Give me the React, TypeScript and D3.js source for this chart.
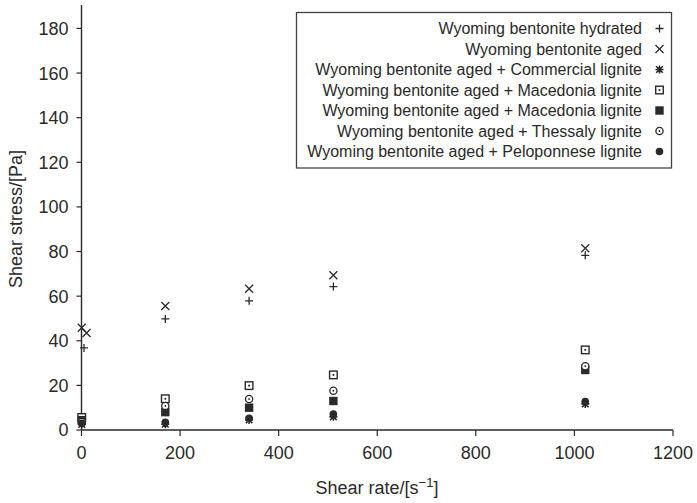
import React from "react";
import * as d3 from "d3";

const xTicks = [0, 200, 400, 600, 800, 1000, 1200];
const yTicks = [0, 20, 40, 60, 80, 100, 120, 140, 160, 180];

const seriesNames = [
  "Wyoming bentonite hydrated",
  "Wyoming bentonite aged",
  "Wyoming bentonite aged + Commercial lignite",
  "Wyoming bentonite aged + Macedonia lignite",
  "Wyoming bentonite aged + Macedonia lignite",
  "Wyoming bentonite aged + Thessaly lignite",
  "Wyoming bentonite aged + Peloponnese lignite",
];
const seriesMarkers = ["plus", "cross", "star", "dotSquare", "fillSquare", "dotCircle", "fillCircle"];

const hydratedX = [5.1, 170, 340, 511, 1022];
const hydratedY = [36.8, 49.8, 57.9, 64.3, 78.3];
const agedX = [0.5, 10.2, 170, 340, 511, 1022];
const agedY = [45.8, 43.5, 55.6, 63.3, 69.4, 81.5];
const ligniteX = [0.5, 170, 340, 511, 1022];
const commercialY = [2.5, 2.6, 4.5, 5.9, 11.7];
const macedonia1Y = [5.6, 14.0, 19.9, 24.7, 35.9];
const macedonia2Y = [4.4, 8.0, 10.0, 13.0, 26.9];
const thessalyY = [3.6, 10.8, 13.9, 17.6, 28.6];
const peloponneseY = [3.0, 3.4, 5.3, 7.2, 12.8];

const seriesX = [hydratedX, agedX, ligniteX, ligniteX, ligniteX, ligniteX, ligniteX];
const seriesY = [hydratedY, agedY, commercialY, macedonia1Y, macedonia2Y, thessalyY, peloponneseY];

const W = 697;
const H = 503;
const C = "#2a2a2a";
const FONT = "'Liberation Sans', Arial, sans-serif";

const xScale = d3.scaleLinear().domain([0, 1200]).range([81.5, 673]);
const yScale = d3.scaleLinear().domain([0, 190.5]).range([430, 5]);

function Marker({ kind, x, y }: { kind: string; x: number; y: number }) {
  const s = 4;
  switch (kind) {
    case "plus":
      return (
        <path d={`M${x - s},${y}H${x + s}M${x},${y - s}V${y + s}`} stroke={C} strokeWidth={1.3} fill="none" />
      );
    case "cross":
      return (
        <path
          d={`M${x - s},${y - s}L${x + s},${y + s}M${x - s},${y + s}L${x + s},${y - s}`}
          stroke={C}
          strokeWidth={1.3}
          fill="none"
        />
      );
    case "star":
      return (
        <path
          d={`M${x - s},${y}H${x + s}M${x},${y - s}V${y + s}M${x - 3.3},${y - 3.3}L${x + 3.3},${y + 3.3}M${x - 3.3},${y + 3.3}L${x + 3.3},${y - 3.3}`}
          stroke={C}
          strokeWidth={1.6}
          fill="none"
        />
      );
    case "dotSquare":
      return (
        <g>
          <rect x={x - 3.8} y={y - 3.8} width={7.6} height={7.6} fill="#fff" stroke={C} strokeWidth={1.4} />
          <rect x={x - 0.9} y={y - 0.9} width={1.8} height={1.8} fill={C} />
        </g>
      );
    case "fillSquare":
      return <rect x={x - 4.2} y={y - 4.2} width={8.4} height={8.4} fill={C} />;
    case "dotCircle":
      return (
        <g>
          <circle cx={x} cy={y} r={3.6} fill="#fff" stroke={C} strokeWidth={1.3} />
          <circle cx={x} cy={y} r={0.9} fill={C} />
        </g>
      );
    case "fillCircle":
      return <circle cx={x} cy={y} r={3.8} fill={C} />;
    default:
      return null;
  }
}

export default function App() {
  const legendRowY = (i: number) => 28.5 + i * 20.5;
  return (
    <div style={{ position: "fixed", left: 0, top: 0, width: W, height: H, background: "#fff" }}>
      <svg width={W} height={H} style={{ display: "block" }} fontFamily={FONT}>
        <rect width={W} height={H} fill="#fff" />
        {/* axes */}
        <line x1={xScale(0)} x2={xScale(0)} y1={yScale(190.5)} y2={yScale(0)} stroke={C} strokeWidth={1.4} />
        <line x1={xScale(0)} x2={xScale(1200)} y1={yScale(0)} y2={yScale(0)} stroke={C} strokeWidth={1.4} />
        {yTicks.map((t) => (
          <g key={"y" + t}>
            <line x1={xScale(0) - 5} x2={xScale(0)} y1={yScale(t)} y2={yScale(t)} stroke={C} strokeWidth={1.2} />
            <text x={xScale(0) - 13} y={yScale(t)} dy="0.36em" textAnchor="end" fontSize={18} fill={C}>
              {t}
            </text>
          </g>
        ))}
        {xTicks.map((t) => (
          <g key={"x" + t}>
            <line x1={xScale(t)} x2={xScale(t)} y1={yScale(0)} y2={yScale(0) + 6} stroke={C} strokeWidth={1.2} />
            <text x={xScale(t)} y={yScale(0) + 29} textAnchor="middle" fontSize={18} fill={C}>
              {t}
            </text>
          </g>
        ))}
        <text x={377} y={494} textAnchor="middle" fontSize={18} fill={C}>
          Shear rate/[s
          <tspan fontSize={13} dy={-7}>−1</tspan>
          <tspan dy={7}>]</tspan>
        </text>
        <text transform={`translate(22,${219}) rotate(-90)`} textAnchor="middle" fontSize={18} fill={C}>
          Shear stress/[Pa]
        </text>
        {/* data */}
        {seriesY.map((ys, si) =>
          ys.map((v, i) => (
            <Marker key={si + "-" + i} kind={seriesMarkers[si]} x={xScale(seriesX[si][i])} y={yScale(v)} />
          ))
        )}
        {/* legend */}
        <rect x={296.5} y={12.5} width={375} height={155.5} fill="#fff" stroke="#444" strokeWidth={1.3} />
        {seriesNames.map((n, i) => (
          <g key={"l" + i}>
            <text x={642} y={legendRowY(i)} dy="0.35em" textAnchor="end" fontSize={16} fill={C}>
              {n}
            </text>
            <Marker kind={seriesMarkers[i]} x={659.5} y={legendRowY(i)} />
          </g>
        ))}
      </svg>
    </div>
  );
}
